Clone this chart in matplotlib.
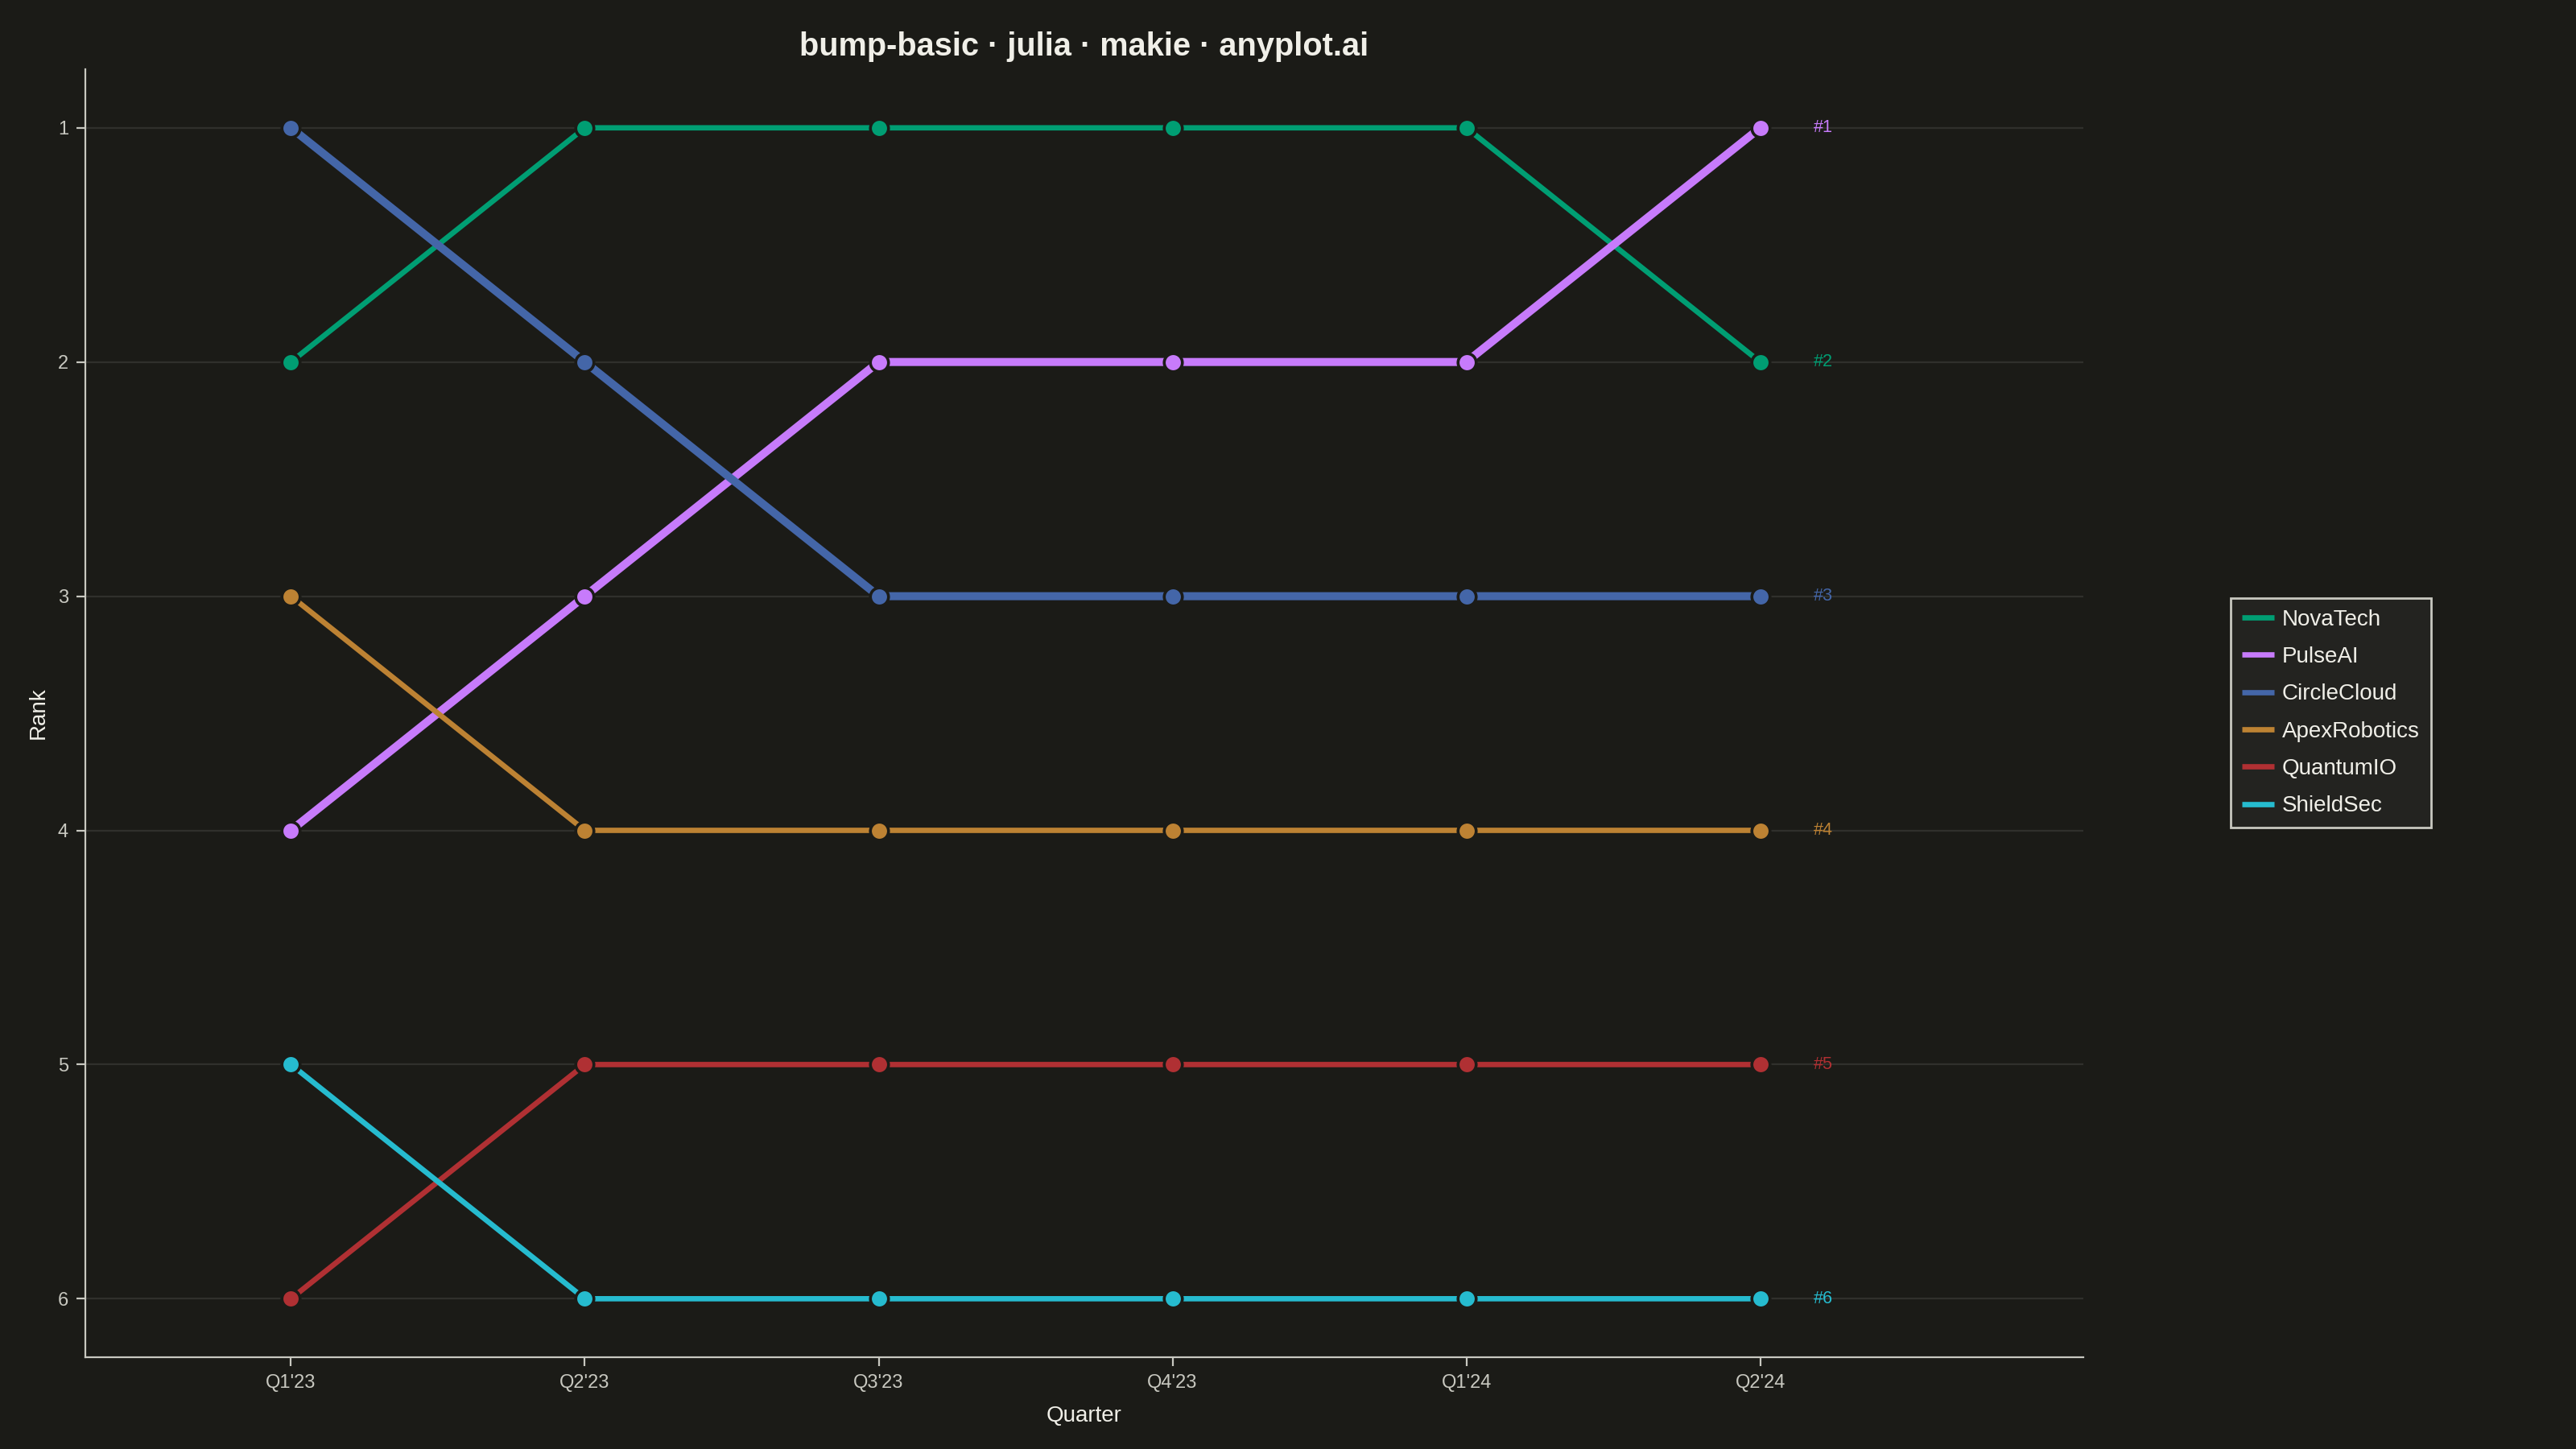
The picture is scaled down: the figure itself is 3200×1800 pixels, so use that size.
import matplotlib
matplotlib.use("Agg")
import matplotlib.pyplot as plt

quarters = ["Q1'23", "Q2'23", "Q3'23", "Q4'23", "Q1'24", "Q2'24"]
companies = ["NovaTech", "PulseAI", "CircleCloud", "ApexRobotics", "QuantumIO", "ShieldSec"]
nova_ranks = [2, 1, 1, 1, 1, 2]
pulse_ranks = [4, 3, 2, 2, 2, 1]
circle_ranks = [1, 2, 3, 3, 3, 3]
apex_ranks = [3, 4, 4, 4, 4, 4]
quantum_ranks = [6, 5, 5, 5, 5, 5]
shield_ranks = [5, 6, 6, 6, 6, 6]
rank_ticks = [1, 2, 3, 4, 5, 6]

colors = ["#009E73", "#C77BFB", "#4466A8", "#BD8233", "#B03033", "#26BBCF"]
widths = [2.4, 3.6, 3.6, 2.4, 2.4, 2.4]
series = [nova_ranks, pulse_ranks, circle_ranks, apex_ranks, quantum_ranks, shield_ranks]

BG = "#1B1B17"
FG = "#F0EFE8"
AX = "#C8C8C0"
GRID = "#30302C"

plt.rcParams['font.family'] = ['Liberation Sans', 'DejaVu Sans']

fig = plt.figure(figsize=(16, 9), dpi=200, facecolor=BG)
ax = fig.add_axes([0.0331, 0.0633, 0.7757, 0.8889])
ax.set_facecolor(BG)

x = list(range(len(quarters)))
handles = []
for name, ranks, col, lw in zip(companies, series, colors, widths):
    h, = ax.plot(x, ranks, color=col, lw=lw, solid_capstyle='butt', zorder=3, label=name)
    ax.plot(x, ranks, ls='none', marker='o', ms=8.1, mfc=col, mec=BG, mew=1.3, zorder=4)
    handles.append(h)
    ax.annotate(f"#{ranks[-1]}", (x[-1], ranks[-1]), xytext=(24, 0), textcoords='offset points',
                color=col, fontsize=7.8, va='center', ha='left')

ax.set_xlim(-0.7, 6.1)
ax.set_ylim(6.25, 0.75)
ax.set_xticks(x)
ax.set_xticklabels(quarters)
ax.set_yticks(rank_ticks)
ax.set_yticklabels([str(r) for r in rank_ticks])
ax.tick_params(colors=AX, labelcolor=AX, labelsize=8.5, length=4, width=0.8)
ax.yaxis.grid(True, color=GRID, lw=0.8)
ax.xaxis.grid(False)
ax.set_axisbelow(True)
for s in ["top", "right"]:
    ax.spines[s].set_visible(False)
for s in ["left", "bottom"]:
    ax.spines[s].set_color(AX)
    ax.spines[s].set_linewidth(0.8)

ax.set_xlabel("Quarter", color=FG, fontsize=10, labelpad=6)
ax.set_ylabel("Rank", color=FG, fontsize=10, labelpad=4)
ax.set_title("bump-basic · julia · makie · anyplot.ai", color=FG, fontsize=14.3,
             fontweight='bold', pad=6)

leg = fig.legend(handles=handles, loc='center left', bbox_to_anchor=(0.866, 0.508),
                 fontsize=10, frameon=True, fancybox=False, facecolor="#232320",
                 edgecolor=AX, labelcolor=FG, handlelength=1.45, handletextpad=0.35,
                 labelspacing=0.73, borderpad=0.5, borderaxespad=0)
leg.get_frame().set_linewidth(1.0)
leg.get_frame().set_alpha(1)
for lh in leg.get_lines():
    lh.set_linewidth(2.4)

fig.savefig("out.png", dpi=200, facecolor=BG)
